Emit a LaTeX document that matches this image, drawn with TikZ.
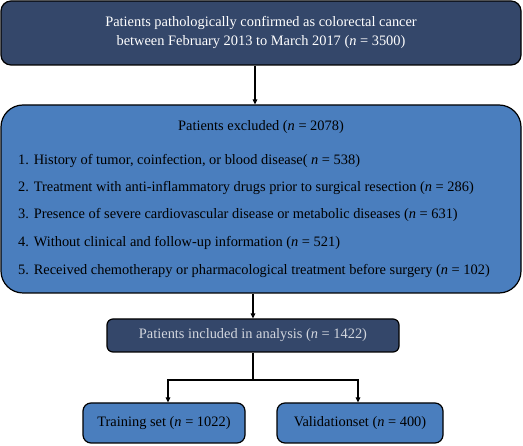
\documentclass[tikz,border=0pt]{standalone}
\usepackage{fontspec}
\setmainfont{Liberation Serif}
\usetikzlibrary{arrows.meta}
\definecolor{navy}{HTML}{34476A}
\definecolor{midblue}{HTML}{4A7EBE}
\definecolor{lightgray}{HTML}{D2D6DE}
\tikzset{
  box/.style={draw=black, line width=1.2pt, inner sep=0pt},
  darkbox/.style={box, fill=navy},
  bluebox/.style={box, fill=midblue},
  txt/.style={font=\fontsize{14.4}{17}\selectfont, inner sep=0pt},
  arr/.style={line width=1.2pt, -{Triangle[length=5pt,width=4.5pt]}},
  ln/.style={line width=1.2pt}
}
\begin{document}
\begin{tikzpicture}[x=1pt,y=-1pt]
\useasboundingbox (0,0) rectangle (523,446);
% boxes
\node[darkbox, rounded corners=10pt, minimum width=520pt, minimum height=64pt] (top) at (261,33) {};
\node[bluebox, rounded corners=22pt, minimum width=520pt, minimum height=188pt] (excl) at (261,199) {};
\node[darkbox, rounded corners=6pt, minimum width=292pt, minimum height=33pt] (incl) at (253,335.5) {};
\node[bluebox, rounded corners=8pt, minimum width=162pt, minimum height=40pt] (train) at (164,423) {};
\node[bluebox, rounded corners=8pt, minimum width=166pt, minimum height=40pt] (valid) at (360,423) {};
% texts
\node[txt, text=white] (t1) at (261,23) {Patients pathologically confirmed as colorectal cancer};
\node[txt, text=white] (t2) at (261,42) {between February 2013 to March 2017 (\textit{n} = 3500)};
\node[txt] (eh) at (261,127) {Patients excluded (\textit{n} = 2078)};
\node[txt, anchor=west] (e1) at (18,161) {1. History of tumor, coinfection, or blood disease( \textit{n} = 538)};
\node[txt, anchor=west] (e2) at (18,188) {2. Treatment with anti-inflammatory drugs prior to surgical resection (\textit{n} = 286)};
\node[txt, anchor=west] (e3) at (18,215) {3. Presence of severe cardiovascular disease or metabolic diseases (\textit{n} = 631)};
\node[txt, anchor=west] (e4) at (18,243) {4. Without clinical and follow-up information (\textit{n} = 521)};
\node[txt, anchor=west] (e5) at (18,271) {5. Received chemotherapy or pharmacological treatment before surgery (\textit{n} = 102)};
\node[txt, text=lightgray] (it) at (253,335.5) {Patients included in analysis (\textit{n} = 1422)};
\node[txt] (tt) at (164,423) {Training set (\textit{n} = 1022)};
\node[txt] (vt) at (360,423) {Validationset (\textit{n} = 400)};
% connectors
\coordinate (split) at (253,380);
\draw[arr] ([xshift=-6pt]top.south) -- ([xshift=-6pt]excl.north);
\draw[arr] (excl.south -| incl.north) -- (incl.north);
\draw[ln] (incl.south) -- (split);
\draw[arr] (split) -| ([xshift=4pt]train.north);
\draw[arr] (split) -| ([xshift=-2pt]valid.north);
\end{tikzpicture}
\end{document}
